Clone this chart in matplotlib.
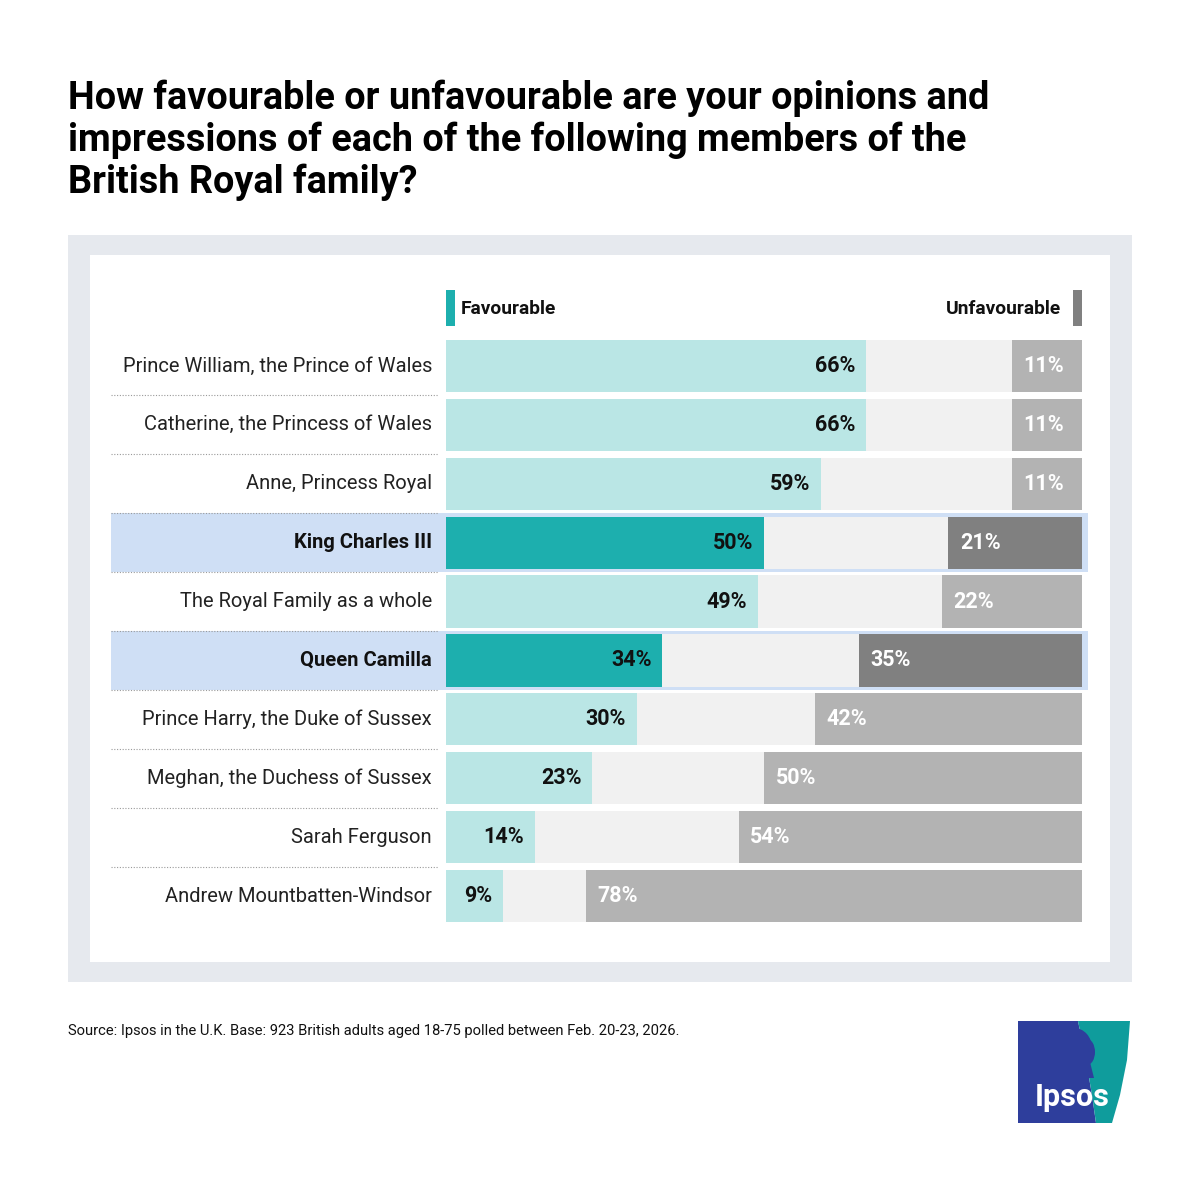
import matplotlib
matplotlib.use("Agg")
import matplotlib.pyplot as plt
from matplotlib.patches import Rectangle, Polygon, Ellipse
import numpy as np

plt.rcParams['font.family'] = ['Roboto', 'DejaVu Sans']

# ---------------- data ----------------
title_lines = ["How favourable or unfavourable are your opinions and",
               "impressions of each of the following members of the",
               "British Royal family?"]
categories = ["Prince William, the Prince of Wales",
              "Catherine, the Princess of Wales",
              "Anne, Princess Royal",
              "King Charles III",
              "The Royal Family as a whole",
              "Queen Camilla",
              "Prince Harry, the Duke of Sussex",
              "Meghan, the Duchess of Sussex",
              "Sarah Ferguson",
              "Andrew Mountbatten-Windsor"]
favourable = [66, 66, 59, 50, 49, 34, 30, 23, 14, 9]
unfavourable = [11, 11, 11, 21, 22, 35, 42, 50, 54, 78]
highlighted = ["King Charles III", "Queen Camilla"]
legend_labels = ["Favourable", "Unfavourable"]
source = "Source: Ipsos in the U.K. Base: 923 British adults aged 18-75 polled between Feb. 20-23, 2026."

# ---------------- colours ----------------
FAV_LIGHT = "#BAE6E5"
FAV_DARK = "#1DAFAE"
UNF_LIGHT = "#B3B3B3"
UNF_DARK = "#808080"
TRACK = "#F1F1F1"
HL = "#CFDFF5"
PANEL = "#E6E9EE"

W = H = 1200
fig = plt.figure(figsize=(12, 12), dpi=100)
fig.patch.set_facecolor("white")

bg = fig.add_axes([0, 0, 1, 1])
bg.set_xlim(0, W)
bg.set_ylim(H, 0)
bg.axis("off")

# title
for k, line in enumerate(title_lines):
    bg.text(68, 98 + 42 * k, line, fontsize=27.3, fontweight="bold", color="#000000",
            va="center", ha="left")

# panel
bg.add_patch(Rectangle((68, 235), 1064, 747, facecolor=PANEL, edgecolor="none"))
bg.add_patch(Rectangle((90, 255), 1020, 707, facecolor="white", edgecolor="none"))

# legend
bg.add_patch(Rectangle((446, 290), 9, 36, facecolor=FAV_DARK, edgecolor="none"))
bg.text(461, 309, legend_labels[0], fontsize=13.8, fontweight="bold", va="center", ha="left", color="#111111")
bg.add_patch(Rectangle((1073, 290), 9, 36, facecolor=UNF_DARK, edgecolor="none"))
bg.text(1061, 309, legend_labels[1], fontsize=13.8, fontweight="bold", va="center", ha="right", color="#111111")

# source
bg.text(68, 1031, source, fontsize=10.6, va="center", ha="left", color="#111111")

# logo
BLUE = "#2E3E9C"
TEAL = "#0F9C9C"
bg.add_patch(Polygon([(1018, 1021), (1078, 1021), (1086, 1060), (1092, 1095), (1096, 1123), (1018, 1123)],
                     closed=True, facecolor=BLUE, edgecolor="none"))
bg.add_patch(Polygon([(1078, 1021), (1130, 1021), (1127, 1060), (1120, 1095), (1112, 1123), (1096, 1123),
                      (1092, 1095), (1086, 1060)],
                     closed=True, facecolor=TEAL, edgecolor="none"))
bg.add_patch(Ellipse((1074, 1048), 36, 40, facecolor=BLUE, edgecolor="none"))
bg.add_patch(Ellipse((1087, 1052), 16, 26, facecolor=BLUE, edgecolor="none"))
bg.add_patch(Polygon([(1066, 1062), (1090, 1062), (1094, 1078), (1062, 1078)], closed=True,
                     facecolor=BLUE, edgecolor="none"))
bg.text(1072, 1097, "Ipsos", fontsize=22, fontweight="bold", color="white", ha="center", va="center")

# ---------------- bars ----------------
n = len(categories)
left_px, right_px = 446, 1082
top_px, bot_px = 336.5, 925.5
ax = fig.add_axes([left_px / W, 1 - bot_px / H, (right_px - left_px) / W, (bot_px - top_px) / H])
ax.set_xlim(0, 100)
ax.set_ylim(n - 0.5, -0.5)
ax.axis("off")
ax.patch.set_alpha(0)

y = np.arange(n)
bar_h = 0.885
label_x = -2.2
sep_x0, sep_x1 = -52.7, -1.2

for i, cat in enumerate(categories):
    hl = cat in highlighted
    if hl:
        ax.add_patch(Rectangle((sep_x0, i - 0.5), 100.9 - sep_x0, 1.0, facecolor=HL,
                               edgecolor="none", clip_on=False, zorder=0))
    ax.text(label_x, i, cat, ha="right", va="center", fontsize=14.5,
            fontweight="bold" if hl else "normal", color="#111111" if hl else "#222222",
            zorder=5, clip_on=False)

ax.barh(y, [100] * n, height=bar_h, color=TRACK, zorder=1)
fav_colors = [FAV_DARK if c in highlighted else FAV_LIGHT for c in categories]
unf_colors = [UNF_DARK if c in highlighted else UNF_LIGHT for c in categories]
ax.barh(y, favourable, height=bar_h, color=fav_colors, zorder=2)
unf_left = [100 - u for u in unfavourable]
ax.barh(y, unfavourable, left=unf_left, height=bar_h, color=unf_colors, zorder=2)

for i in range(n):
    ax.text(favourable[i] - 1.7, i, f"{favourable[i]}%", ha="right", va="center",
            fontsize=15.5, fontweight="bold", color="#111111", zorder=5)
    ax.text(unf_left[i] + 1.8, i, f"{unfavourable[i]}%", ha="left", va="center",
            fontsize=15.5, fontweight="bold", color="white", zorder=5)

for i in range(n - 1):
    ax.plot([sep_x0, sep_x1], [i + 0.5, i + 0.5], ls=(0, (1, 1.5)), lw=0.8,
            color="#9A9A9A", clip_on=False, zorder=3)

fig.savefig("out.png", dpi=100, facecolor="white")
